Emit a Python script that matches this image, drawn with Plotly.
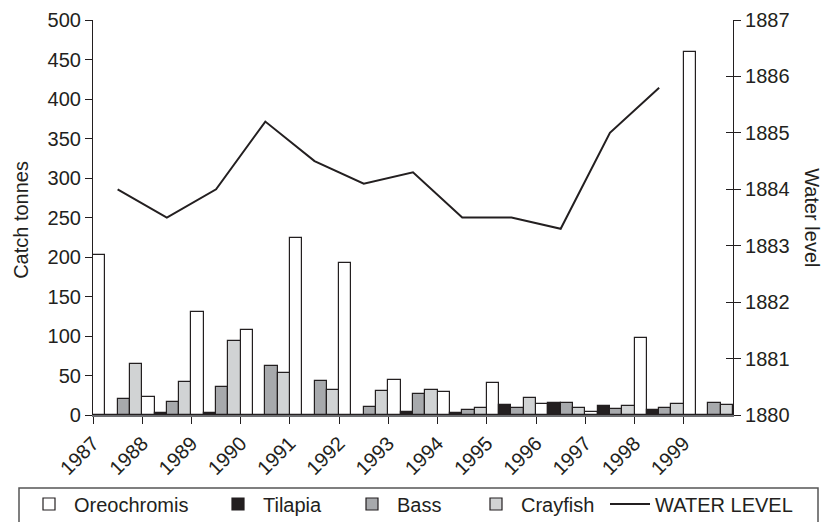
import plotly.graph_objects as go

years = ["1987", "1988", "1989", "1990", "1991", "1992", "1993",
         "1994", "1995", "1996", "1997", "1998", "1999"]
oreochromis = [203, 23, 131, 107, 224, 192, 44, 29, 41, 14, 4, 97, 459]
tilapia = [0, 2, 2, 0, 0, 0, 4, 2, 13, 15, 12, 6, 0]
bass = [20, 16, 36, 62, 43, 10, 27, 6, 9, 15, 7, 9, 15]
crayfish = [64, 42, 94, 53, 32, 30, 32, 9, 22, 9, 12, 14, 13]
water_level = [1884.0, 1883.5, 1884.0, 1885.2, 1884.5, 1884.1, 1884.3,
               1883.5, 1883.5, 1883.3, 1885.0, 1885.8]

FONT = "Liberation Sans, Arial, Helvetica, sans-serif"
INK = "#231f20"
W, H = 827, 522

xpos = [i + 0.5 for i in range(len(years))]
xline = [i + 0.5 for i in range(len(water_level))]

# legend item left edges (px) — one legend per entry so the row spans the page
legend_left = {"legend": 24, "legend2": 213, "legend3": 347,
               "legend4": 471, "legend5": 605}

fig = go.Figure()
series = [
    ("Oreochromis", oreochromis, "#ffffff", "legend"),
    ("Tilapia", tilapia, "#231f20", "legend2"),
    ("Bass", bass, "#a7a9ac", "legend3"),
    ("Crayfish", crayfish, "#d1d3d4", "legend4"),
]
for name, vals, col, lg in series:
    fig.add_trace(go.Bar(
        x=xpos, y=vals, name=name, legend=lg,
        marker=dict(color=col, line=dict(color=INK, width=1.2)),
    ))

fig.add_trace(go.Scatter(
    x=xline, y=water_level, name="WATER LEVEL", mode="lines",
    line=dict(color=INK, width=2), yaxis="y2", legend="legend5",
))
# helper trace to activate the inner tick axis on the right
fig.add_trace(go.Scatter(
    x=[None], y=[None], yaxis="y3", showlegend=False, hoverinfo="skip",
))

legend_common = dict(
    orientation="h", xref="container", yref="container",
    xanchor="left", y=1 - 504 / H, yanchor="middle",
    font=dict(size=20, family=FONT, color=INK),
    borderwidth=0, bgcolor="rgba(0,0,0,0)", itemwidth=40,
)
legends = {k: dict(legend_common, x=v / W) for k, v in legend_left.items()}

fig.update_layout(
    width=W, height=H,
    margin=dict(l=93, r=94, t=20, b=107, autoexpand=False),
    paper_bgcolor="white", plot_bgcolor="white",
    font=dict(family=FONT, size=20, color=INK),
    barmode="group", bargap=0, bargroupgap=0,
    showlegend=True,
    xaxis=dict(
        range=[0, 13], tickmode="array",
        tickvals=list(range(len(years))), ticktext=years,
        tickangle=-45, ticks="outside", ticklen=7, tickcolor=INK,
        showline=True, linecolor="#6d6e71", linewidth=1.5,
        showgrid=False, zeroline=False, automargin=False,
        tickfont=dict(size=20),
    ),
    yaxis=dict(
        range=[0, 500], dtick=50, ticks="outside", ticklen=7, tickcolor=INK,
        showline=True, linecolor=INK, linewidth=1.2, automargin=False,
        showgrid=False, zeroline=False, tickfont=dict(size=20),
    ),
    yaxis2=dict(
        range=[1880, 1887], dtick=1, overlaying="y", side="right",
        ticks="outside", ticklen=7, tickcolor=INK, automargin=False,
        showline=True, linecolor=INK, linewidth=1.2,
        showgrid=False, zeroline=False, tickfont=dict(size=20),
    ),
    yaxis3=dict(
        range=[1880, 1887], dtick=1, overlaying="y", side="right",
        ticks="inside", ticklen=7, tickcolor=INK, showticklabels=False,
        showline=False, showgrid=False, zeroline=False, automargin=False,
    ),
    shapes=[
        dict(type="rect", xref="paper", yref="paper",
             x0=(19 - 93) / 640, x1=(818 - 93) / 640,
             y0=(415 - 524) / 395, y1=(415 - 488) / 395,
             line=dict(color="#555555", width=1.5), fillcolor="rgba(0,0,0,0)",
             layer="below"),
    ],
    annotations=[
        dict(text="Catch tonnes", xref="paper", yref="paper",
             x=-0.1125, y=0.494, textangle=-90, showarrow=False,
             xanchor="center", yanchor="middle",
             font=dict(size=20, family=FONT, color=INK)),
        dict(text="Water level", xref="paper", yref="paper",
             x=1.123, y=0.499, textangle=90, showarrow=False,
             xanchor="center", yanchor="middle",
             font=dict(size=20, family=FONT, color=INK)),
    ],
    **legends,
)

fig.write_html("out.html", config={"displayModeBar": False},
               post_script="document.body.style.margin='0';")
